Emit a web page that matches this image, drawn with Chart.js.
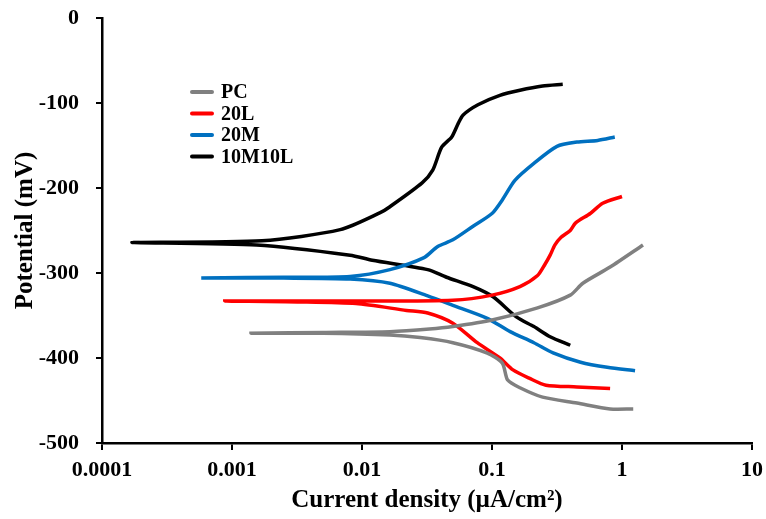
<!DOCTYPE html>
<html>
<head>
<meta charset="utf-8">
<script src="https://cdn.jsdelivr.net/npm/chart.js@4.4.0/dist/chart.umd.min.js"></script>
<style>
  html, body { margin: 0; padding: 0; background: #fff; }
  #wrap { width: 766px; height: 519px; }
</style>
</head>
<body>
<div id="wrap"><canvas id="tafel" width="766" height="519"></canvas></div>
<script>
// Polarization curves, each from cathodic end -> Ecorr -> anodic end
const seriesNames = ['PC', '20L', '20M', '10M10L'];
const seriesColors = ['#808080', '#ff0000', '#0070c0', '#000000'];

const pcCurrent = [1.22, 0.81, 0.45, 0.245, 0.164, 0.132, 0.12, 0.091, 0.05, 0.028, 0.0164, 0.005, 0.0014,
  0.005, 0.0164, 0.033, 0.05, 0.102, 0.224, 0.4, 0.5, 0.81, 1.45];
const pcPotential = [-460, -460, -453, -446, -435, -426, -406, -394, -382, -376, -373, -371, -371,
  -370, -369, -366, -363, -355, -341, -326, -312, -293, -267];

const l20Current = [0.81, 0.45, 0.26, 0.195, 0.145, 0.115, 0.077, 0.05, 0.032, 0.022, 0.009, 0.0032, 0.00088,
  0.0032, 0.01, 0.05, 0.1, 0.164, 0.224, 0.255, 0.28, 0.305, 0.34, 0.4, 0.44, 0.57, 0.71, 1.0];
const l20Potential = [-436, -434, -432, -424, -414, -400, -382, -359, -347, -344, -336, -334, -333,
  -333, -333, -332, -326, -316, -303, -290, -279, -267, -258, -250, -241, -230, -218, -210];

const m20Current = [1.26, 0.77, 0.48, 0.295, 0.21, 0.138, 0.091, 0.05, 0.032, 0.0164, 0.0081, 0.0025, 0.00058,
  0.0025, 0.0081, 0.0164, 0.03, 0.038, 0.05, 0.0715, 0.1, 0.12, 0.15, 0.21, 0.316, 0.45, 0.65, 0.88];
const m20Potential = [-415, -411, -405, -394, -382, -369, -353, -338, -327, -312, -307, -306, -306,
  -305, -304, -296, -282, -269, -261, -245, -230, -214, -191, -171, -151, -146, -144, -140];

const m10l10Current = [0.4, 0.28, 0.21, 0.155, 0.102, 0.0715, 0.0447, 0.032, 0.012, 0.0081, 0.00155, 0.00017,
  0.0017, 0.0068, 0.0138, 0.0164, 0.029, 0.035, 0.041, 0.049, 0.055, 0.06, 0.078, 0.115, 0.164, 0.245, 0.35];
const m10l10Potential = [-385, -375, -363, -352, -328, -316, -305, -296, -285, -279, -267, -264,
  -262, -249, -229, -222, -194, -179, -152, -140, -124, -114, -102, -91, -85, -80, -78];

const xTickValues = [0.0001, 0.001, 0.01, 0.1, 1, 10];
const xTickLabels = ['0.0001', '0.001', '0.01', '0.1', '1', '10'];
const yTickValues = [-500, -400, -300, -200, -100, 0];

const toPoints = (xs, ys) => xs.map((x, i) => ({ x: x, y: ys[i] }));
const allCurrents = [pcCurrent, l20Current, m20Current, m10l10Current];
const allPotentials = [pcPotential, l20Potential, m20Potential, m10l10Potential];

const serif = '"Liberation Serif", "Times New Roman", serif';

// legend drawn inside the plot, upper left
const insideLegend = {
  id: 'insideLegend',
  afterDraw(chart) {
    const { ctx, chartArea } = chart;
    const x0 = chartArea.left + 88;
    const y0 = chartArea.top + 74;
    ctx.save();
    ctx.font = 'bold 20px ' + serif;
    ctx.textBaseline = 'middle';
    seriesNames.forEach((name, i) => {
      const y = y0 + i * 21.5;
      ctx.strokeStyle = seriesColors[i];
      ctx.lineWidth = 4;
      ctx.lineCap = 'round';
      ctx.beginPath();
      ctx.moveTo(x0 + 2, y);
      ctx.lineTo(x0 + 22, y);
      ctx.stroke();
      ctx.fillStyle = '#000';
      ctx.fillText(name, x0 + 31, y + 1);
    });
    ctx.restore();
  }
};

new Chart(document.getElementById('tafel'), {
  type: 'line',
  data: {
    datasets: seriesNames.map((name, i) => ({
      label: name,
      data: toPoints(allCurrents[i], allPotentials[i]),
      borderColor: seriesColors[i],
      backgroundColor: seriesColors[i],
      borderWidth: 3.5,
      pointRadius: 0,
      tension: 0.25,
      fill: false
    }))
  },
  options: {
    responsive: false,
    animation: false,
    layout: { padding: { left: 0, right: 14, top: 18, bottom: 0 } },
    plugins: {
      legend: { display: false },
      tooltip: { enabled: false }
    },
    scales: {
      x: {
        type: 'logarithmic',
        min: 0.0001,
        max: 10,
        afterBuildTicks: (scale) => { scale.ticks = xTickValues.map(v => ({ value: v })); },
        afterFit: (scale) => {
          scale.height = 76;
          scale.paddingLeft = 0;
          scale.paddingRight = 0;
        },
        ticks: {
          autoSkip: false,
          maxRotation: 0,
          padding: 7,
          color: '#000',
          font: { family: serif, size: 22, weight: 'bold' },
          callback: (v) => {
            const k = xTickValues.findIndex(t => Math.abs(Math.log10(t) - Math.log10(v)) < 1e-6);
            return k >= 0 ? xTickLabels[k] : '';
          }
        },
        grid: { display: true, drawOnChartArea: false, drawTicks: true, tickLength: 7, color: '#000', lineWidth: 2 },
        border: { display: true, color: '#000', width: 2.5 },
        title: {
          display: true,
          text: 'Current density (µA/cm²)',
          color: '#000',
          font: { family: serif, size: 25, weight: 'bold' },
          padding: { top: 0, bottom: 3 }
        }
      },
      y: {
        type: 'linear',
        min: -500,
        max: 0,
        afterBuildTicks: (scale) => { scale.ticks = yTickValues.map(v => ({ value: v })); },
        afterFit: (scale) => {
          scale.width = 102;
          scale.paddingTop = 0;
          scale.paddingBottom = 0;
        },
        ticks: {
          padding: 17,
          color: '#000',
          font: { family: serif, size: 22, weight: 'bold' }
        },
        grid: { display: true, drawOnChartArea: false, drawTicks: true, tickLength: 6, color: '#000', lineWidth: 2 },
        border: { display: true, color: '#000', width: 2.5 },
        title: {
          display: true,
          text: 'Potential (mV)',
          color: '#000',
          font: { family: serif, size: 25, weight: 'bold' },
          padding: { top: 11, bottom: 0 }
        }
      }
    }
  },
  plugins: [insideLegend]
});
</script>
</body>
</html>
